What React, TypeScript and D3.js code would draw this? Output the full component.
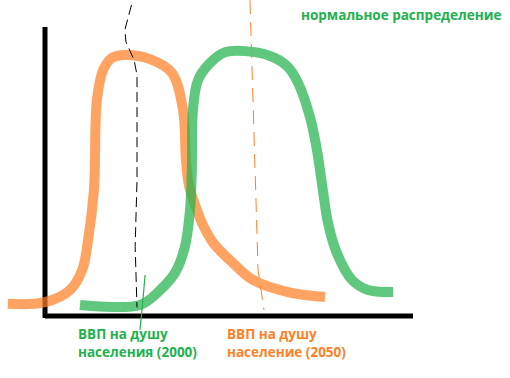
import React from "react";
import * as d3 from "d3";

// Hand-drawn distribution curves (x: income units 0..100, y: density units 0..100)
const orangeX = [-10.1, 0, 6.8, 10.1, 11.7, 13.3, 14.1, 15.8, 18.2, 21.7, 28.5, 34.5, 37.5, 38.3, 39.1, 40.8, 42.9, 45.7, 51.1, 56.5, 66.0, 76.1];
const orangeY = [4.2, 4.8, 9.0, 15.9, 26.3, 43.6, 74.7, 85.1, 89.3, 90.3, 88.9, 84.1, 71.3, 54.0, 45.3, 38.4, 31.5, 25.3, 18.3, 12.5, 8.3, 6.6];

const greenX = [9.5, 25.8, 31.3, 35.3, 38.0, 39.4, 39.9, 40.2, 41.6, 44.8, 48.9, 57.1, 62.5, 66.0, 68.8, 72.0, 73.9, 75.5, 76.9, 79.3, 83.4, 87.8, 94.6];
const greenY = [3.8, 3.8, 9.0, 14.9, 23.9, 36.7, 50.5, 71.3, 81.7, 87.5, 91.3, 91.3, 89.3, 86.2, 80.6, 68.9, 57.4, 43.6, 32.2, 21.8, 12.5, 9.0, 8.3];

// Marker lines
const blackMarkX = [23.5, 21.7, 22.0, 24.2, 25.0, 25.0, 24.5, 25.0];
const blackMarkY = [107.6, 99.0, 94.8, 88.6, 83.4, 47.0, 24.0, 3.0];
const greenMarkX = [27.2, 26.5, 25.8];
const greenMarkY = [14.2, 4.0, -4.8];
const orangeMarkX = [55.7, 57.9, 59.5];
const orangeMarkY = [109.3, 15.9, 2.1];

const titleText = "нормальное распределение";
const label2000 = ["ВВП на душу", "населения (2000)"];
const label2050 = ["ВВП на душу", "население (2050)"];

const W = 510;
const H = 378;

export default function App() {
  const x = d3.scaleLinear().domain([0, 100]).range([45, 413]);
  const y = d3.scaleLinear().domain([0, 100]).range([316, 27]);

  const line = d3
    .line<[number, number]>()
    .x((d) => x(d[0]))
    .y((d) => y(d[1]))
    .curve(d3.curveCatmullRom.alpha(0.5));
  const straight = d3
    .line<[number, number]>()
    .x((d) => x(d[0]))
    .y((d) => y(d[1]));

  const zip = (a: number[], b: number[]) => a.map((v, i) => [v, b[i]] as [number, number]);

  const font = "'Open Sans', 'DejaVu Sans', sans-serif";

  return (
    <svg
      width={W}
      height={H}
      style={{ position: "absolute", left: 0, top: 0, background: "#fff" }}
    >
      <rect width={W} height={H} fill="#fff" />
      {/* axes */}
      <line x1={x(0)} y1={y(100)} x2={x(0)} y2={y(-0.7)} stroke="#000" strokeWidth={5} />
      <line x1={x(0)} y1={y(0)} x2={x(100)} y2={y(0)} stroke="#000" strokeWidth={5} />

      {/* orange curve */}
      <path
        d={line(zip(orangeX, orangeY)) || ""}
        fill="none"
        stroke="#ff7f27"
        strokeOpacity={0.72}
        strokeWidth={10}
        strokeLinejoin="round"
      />
      {/* green curve */}
      <path
        d={line(zip(greenX, greenY)) || ""}
        fill="none"
        stroke="#22b14c"
        strokeOpacity={0.72}
        strokeWidth={10}
        strokeLinejoin="round"
      />

      {/* markers */}
      <path
        d={straight(zip(blackMarkX, blackMarkY)) || ""}
        fill="none"
        stroke="#000"
        strokeWidth={1}
        strokeDasharray="10,5"
      />
      <path
        d={straight(zip(orangeMarkX, orangeMarkY)) || ""}
        fill="none"
        stroke="#ff7f27"
        strokeWidth={1}
        strokeDasharray="14,8"
      />
      <path
        d={straight(zip(greenMarkX, greenMarkY)) || ""}
        fill="none"
        stroke="#22b14c"
        strokeWidth={1.2}
      />

      {/* texts */}
      <text x={301} y={20} fill="#22b14c" fontFamily={font} fontWeight={700} fontSize={13.5}>
        {titleText}
      </text>
      {label2000.map((t, i) => (
        <text key={"g" + i} x={78} y={339 + i * 18} fill="#22b14c" fontFamily={font} fontWeight={700} fontSize={13.5}>
          {t}
        </text>
      ))}
      {label2050.map((t, i) => (
        <text key={"o" + i} x={227} y={339 + i * 18} fill="#ff7f27" fontFamily={font} fontWeight={700} fontSize={13.5}>
          {t}
        </text>
      ))}
    </svg>
  );
}
